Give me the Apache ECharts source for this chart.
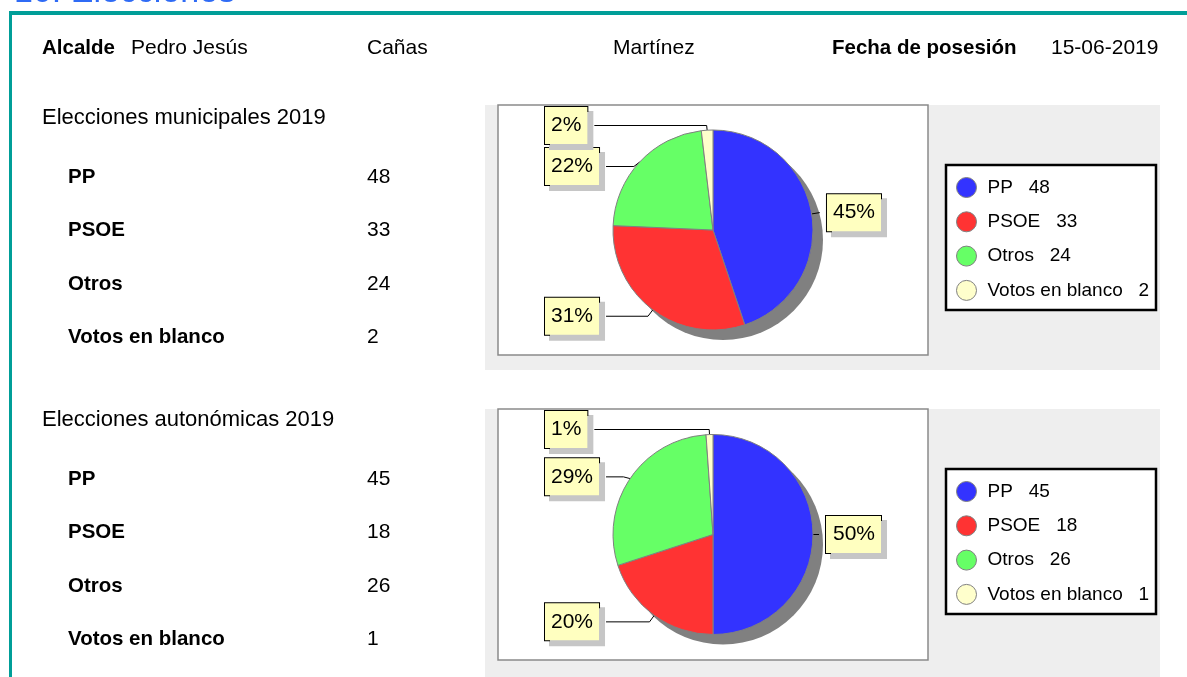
<!DOCTYPE html>
<html>
<head>
<meta charset="utf-8">
<script src="https://cdn.jsdelivr.net/npm/echarts@6/dist/echarts.min.js"></script>
<style>
  html, body { margin: 0; padding: 0; background: #fff; }
  #main { width: 1187px; height: 677px; }
</style>
</head>
<body>
<div id="main"></div>
<script>
// datos
const partidos = ['PP', 'PSOE', 'Otros', 'Votos en blanco'];
const votosMunicipales = [48, 33, 24, 2];
const votosAutonomicas = [45, 18, 26, 1];
const alcalde = ['Pedro Jesús', 'Cañas', 'Martínez'];
const fechaPosesion = '15-06-2019';
const titulos = ['Elecciones municipales 2019', 'Elecciones autonómicas 2019'];

const colores = ['#3333ff', '#ff3333', '#66ff66', '#ffffcc'];
const FONT = '"Liberation Sans", Arial, Helvetica, sans-serif';

// layout de cada bloque
const panelTop = [105, 409];
const panelAlto = [250, 251];
const tituloY = [118, 420];
const filaY = [177, 479];
const PASO = 53.5;

function texto (x, y, str, size, bold, color) {
  return {
    type: 'text', x: x, y: y, z: 5,
    style: {
      text: str, fill: color || '#000', fontSize: size,
      fontWeight: bold ? 'bold' : 'normal', fontFamily: FONT,
      verticalAlign: 'middle'
    }
  }
}

const graficos = [
  texto(14, -7, '10. Elecciones', 34, false, '#2f6bf5'),
  { type: 'rect', z: 6, shape: { x: 9, y: 11, width: 1178, height: 4 }, style: { fill: '#009e98' } },
  { type: 'rect', z: 6, shape: { x: 9, y: 11, width: 3, height: 666 }, style: { fill: '#009e98' } },
  { type: 'rect', z: 5, shape: { x: 12, y: 15, width: 1175, height: 10 }, style: { fill: '#fff' } },
  texto(42, 48, 'Alcalde', 20.5, true),
  texto(131, 48, alcalde[0], 21),
  texto(367, 48, alcalde[1], 21),
  texto(613, 48, alcalde[2], 21),
  texto(832, 48, 'Fecha de posesión', 20.5, true),
  texto(1051, 48, fechaPosesion, 21)
];

const bloques = [votosMunicipales, votosAutonomicas];
const series = [];
const legends = [];

bloques.forEach(function (votos, b) {
  const top = panelTop[b];
  graficos.push(texto(42, tituloY[b], titulos[b], 22));
  partidos.forEach(function (p, i) {
    graficos.push(texto(68, filaY[b] + i * PASO, p, 20.5, true));
    graficos.push(texto(367, filaY[b] + i * PASO, String(votos[i]), 21));
  });
  // fondo gris, caja blanca, sombra de la tarta, caja de leyenda
  graficos.push({ type: 'rect', z: 0, shape: { x: 485, y: top, width: 675, height: b === 0 ? 265 : 268 }, style: { fill: '#eeeeee' } });
  graficos.push({ type: 'rect', z: 1, shape: { x: 498, y: top, width: 430, height: panelAlto[b] }, style: { fill: '#fff', stroke: '#8a8a8a', lineWidth: 1.5 } });
  graficos.push({ type: 'circle', z: 2, shape: { cx: 723, cy: top + panelAlto[b] / 2 + 10, r: 100 }, style: { fill: '#808080' } });
  graficos.push({ type: 'rect', z: 1, shape: { x: 946, y: top + 60, width: 210, height: 145 }, style: { fill: '#fff', stroke: '#000', lineWidth: 2.5 } });

  series.push({
    type: 'pie',
    left: 498, top: top, width: 430, height: panelAlto[b],
    center: ['50%', '50%'],
    radius: 100,
    startAngle: 90,
    clockwise: true,
    percentPrecision: 0,
    z: 3,
    data: partidos.map(function (p, i) { return { name: p, value: votos[i] } }),
    itemStyle: { borderColor: '#808080', borderWidth: 1 },
    label: {
      show: true,
      position: 'outside',
      alignTo: 'edge',
      edgeDistance: 47,
      overflow: 'none',
      formatter: '{d}%',
      fontSize: 21,
      lineHeight: 21,
      fontFamily: FONT,
      color: '#000',
      backgroundColor: '#ffffc0',
      borderColor: '#000',
      borderWidth: 1,
      padding: [8, 6, 8, 6],
      shadowColor: '#c6c6c6',
      shadowOffsetX: 5,
      shadowOffsetY: 5,
      shadowBlur: 0
    },
    labelLine: {
      show: true,
      length: 8,
      length2: 0,
      lineStyle: { color: '#000', width: 1 }
    },
    emphasis: { disabled: true }
  });

  legends.push({
    left: 956,
    top: top + 72,
    padding: 0,
    orient: 'vertical',
    icon: 'circle',
    itemWidth: 20,
    itemHeight: 20,
    itemGap: 13.3,
    selectedMode: false,
    data: partidos,
    formatter: function (name) {
      return name + '   ' + votos[partidos.indexOf(name)]
    },
    itemStyle: { borderColor: '#808080', borderWidth: 1 },
    textStyle: { fontSize: 19, lineHeight: 20, color: '#000', fontFamily: FONT, padding: [0, 0, 0, 6] }
  });
});

const chart = echarts.init(document.getElementById('main'));
chart.setOption({
  animation: false,
  color: colores,
  graphic: { elements: graficos },
  legend: legends,
  series: series
});
</script>
</body>
</html>
